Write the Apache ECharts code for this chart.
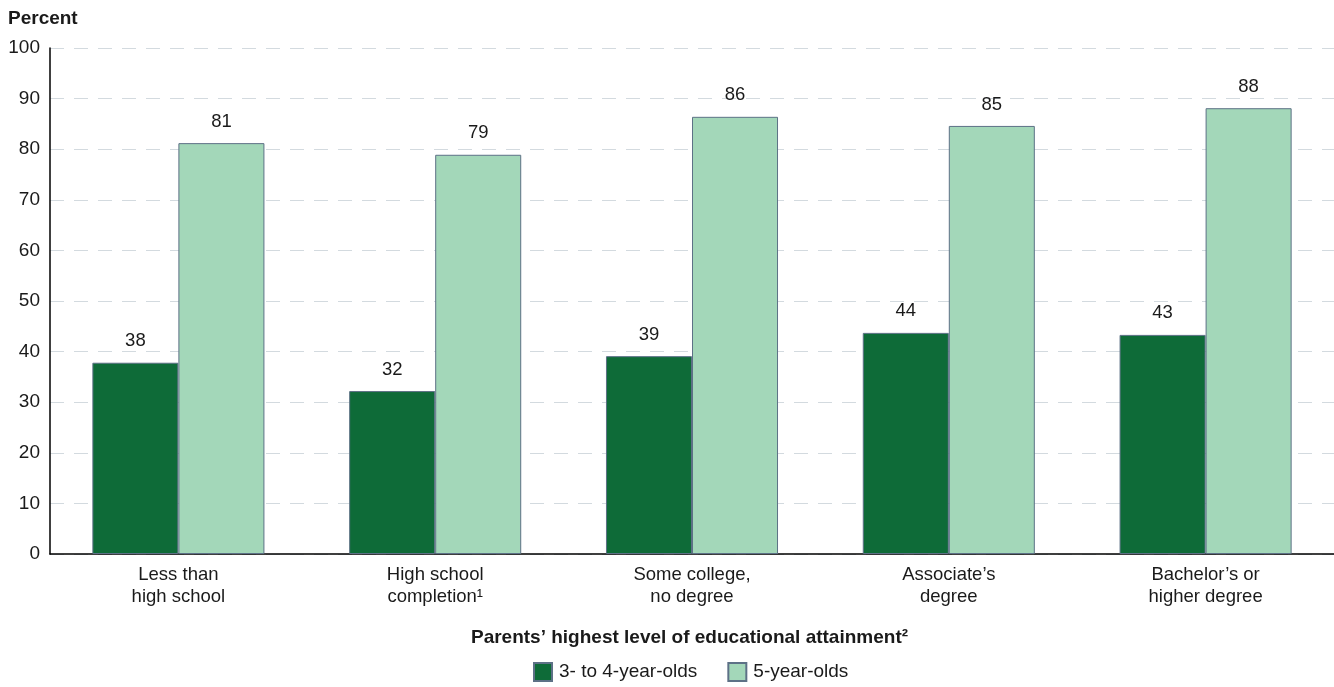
<!DOCTYPE html>
<html><head><meta charset="utf-8">
<script src="https://cdn.jsdelivr.net/npm/echarts@6/dist/echarts.min.js"></script>
<style>html,body{margin:0;padding:0;background:#fff}#c{width:1334px;height:687px}</style>
</head><body><div id="c"></div>
<script>
const categories = ["Less than\nhigh school", "High school\ncompletion¹", "Some college,\nno degree", "Associate’s\ndegree", "Bachelor’s or\nhigher degree"];
const seriesNames = ["3- to 4-year-olds", "5-year-olds"];
const age3to4 = [37.8, 32.2, 39.1, 43.7, 43.3];
const age5 = [81.2, 78.9, 86.4, 84.6, 88.1];
const labels3to4 = [38, 32, 39, 44, 43];
const labels5 = [81, 79, 86, 85, 88];
const yTicks = [0, 10, 20, 30, 40, 50, 60, 70, 80, 90, 100];

const font = "Liberation Sans, Arial, sans-serif";
const chart = echarts.init(document.getElementById('c'));
chart.setOption({
  animation: false,
  textStyle: { fontFamily: font },
  grid: { left: 50, right: 0, top: 48, bottom: 133, containLabel: false },
  legend: {
    top: 657, left: 528, itemWidth: 18, itemHeight: 18, itemGap: 30,
    icon: 'rect',
    textStyle: { fontSize: 19, color: '#1a1a1a', fontFamily: font, padding: [0, 0, 0, 2] },
    data: seriesNames
  },
  xAxis: {
    type: 'category', data: categories,
    name: 'Parents’ highest level of educational attainment²',
    nameLocation: 'middle', nameGap: 74,
    nameTextStyle: { fontSize: 19, fontWeight: 'bold', color: '#1a1a1a', fontFamily: font, padding: [0, 5, 0, 0] },
    axisLine: { lineStyle: { color: '#000', width: 1.5 } },
    axisTick: { show: false },
    axisLabel: { fontSize: 18.5, color: '#1a1a1a', lineHeight: 22, margin: 10, fontFamily: font, interval: 0 }
  },
  yAxis: {
    type: 'value', min: 0, max: 100, interval: 10,
    name: 'Percent', nameLocation: 'end', nameGap: 20,
    nameTextStyle: { fontSize: 19, fontWeight: 'bold', color: '#1a1a1a', align: 'left', padding: [0, 0, 0, -42], fontFamily: font },
    axisLine: { show: true, lineStyle: { color: '#000', width: 1.5 } },
    axisTick: { show: false },
    axisLabel: { fontSize: 19, color: '#1a1a1a', margin: 10, fontFamily: font,
      formatter: v => yTicks.includes(v) ? String(v) : '' },
    splitLine: { lineStyle: { color: '#d3dadf', type: [14, 10], width: 1 } }
  },
  series: [
    {
      name: seriesNames[0], type: 'bar', data: age3to4,
      barGap: '0%', barCategoryGap: '33%',
      itemStyle: { color: '#0e6b38', borderColor: '#5d7186', borderWidth: 1 },
      label: { show: true, position: 'top', distance: 12, fontSize: 18.5, color: '#1a1a1a', fontFamily: font,
        formatter: p => labels3to4[p.dataIndex] }
    },
    {
      name: seriesNames[1], type: 'bar', data: age5,
      itemStyle: { color: '#a3d7b9', borderColor: '#5d7186', borderWidth: 1 },
      label: { show: true, position: 'top', distance: 12, fontSize: 18.5, color: '#1a1a1a', fontFamily: font,
        formatter: p => labels5[p.dataIndex] }
    }
  ]
});
</script></body></html>
